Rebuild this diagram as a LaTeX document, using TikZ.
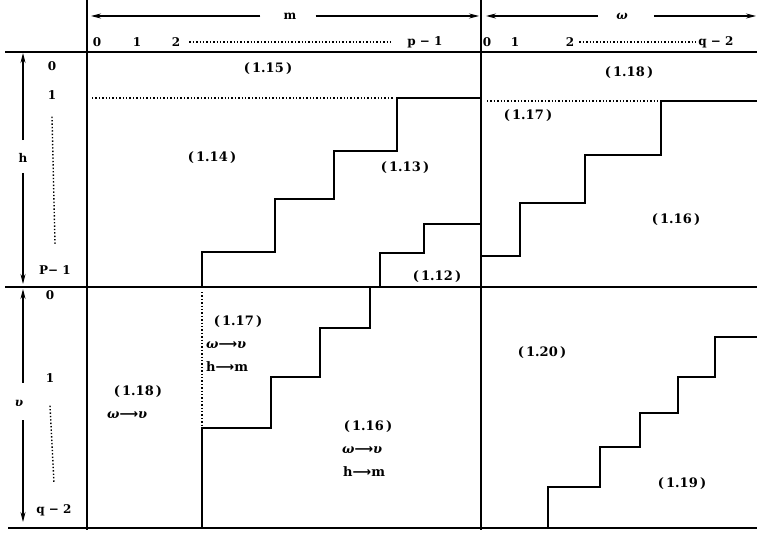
\documentclass[tikz,border=0pt]{standalone}
\usepackage{fontspec}
\setmainfont{DejaVu Serif}
\newfontfamily\arrowfont{DejaVu Sans}
\usetikzlibrary{arrows.meta}
\newcommand{\lra}{{\arrowfont\bfseries ⟶}}
\begin{document}
\begin{tikzpicture}[x=1pt,y=-1pt,
  grid/.style={line width=1.3pt},
  stair/.style={line width=1.3pt, line join=miter},
  dots/.style={line width=1.4pt, dotted},
  lbl/.style={font=\bfseries\fontsize{13}{15}\selectfont, inner sep=1pt},
  ax/.style={font=\bfseries\fontsize{12}{14}\selectfont, inner sep=1pt},
  arr/.style={line width=1.1pt, -{Stealth[length=10pt,width=5pt]}}]
\useasboundingbox (0,0) rectangle (757,535);
% grid
\draw[grid] (5,52) -- (757,52);
\draw[grid] (5,287) -- (757,287);
\draw[grid] (8,528) -- (757,528);
\draw[grid] (87,0) -- (87,530);
\draw[grid] (481,0) -- (481,530);
% top header
\node[ax] (m) at (290,16) {m};
\coordinate (mL) at (91,16);
\coordinate (mR) at (479,16);
\draw[arr] ([xshift=-22pt]m.west) -- (mL);
\draw[arr] ([xshift=18pt]m.east) -- (mR);
\node[ax] (w) at (622,16) {\itshape ω};
\coordinate (wL) at (486,16);
\coordinate (wR) at (756,16);
\draw[arr] ([xshift=-17pt]w.west) -- (wL);
\draw[arr] ([xshift=25pt]w.east) -- (wR);
\node[ax] (c0) at (97,42) {0};
\node[ax] (c1) at (137,42) {1};
\node[ax] (c2) at (176,42) {2};
\node[ax] (cp) at (425,42) {p − 1};
\draw[dots] ([xshift=8pt]c2.east) -- ([xshift=-14pt]cp.west);
\node[ax] (d0) at (487,42) {0};
\node[ax] (d1) at (515,42) {1};
\node[ax] (d2) at (570,42) {2};
\node[ax] (dq) at (716,42) {q − 2};
\draw[dots] ([xshift=4pt]d2.east) -- ([xshift=-2pt]dq.west);
% left axis, upper
\node[ax] (h) at (23,158) {h};
\coordinate (hT) at (23,53);
\coordinate (hB) at (23,284);
\draw[arr] ([yshift=12pt]h.north) -- (hT);
\draw[arr] ([yshift=-9pt]h.south) -- (hB);
\node[ax] (r0) at (52,66) {0};
\node[ax] (r1) at (52,95) {1};
\node[ax] (rp) at (55,270) {P− 1};
\draw[dots] ([yshift=-16pt]r1.south) -- ([yshift=20pt]rp.north);
% left axis, lower
\node[ax] (u) at (19,403) {\itshape υ};
\coordinate (uT) at (23,289);
\coordinate (uB) at (23,522);
\draw[arr] ([yshift=16pt]u.north -| uT) -- (uT);
\draw[arr] ([yshift=-13pt]u.south -| uB) -- (uB);
\node[ax] (s0) at (50,295) {0};
\node[ax] (s1) at (50,378) {1};
\node[ax] (sq) at (54,510) {q − 2};
\draw[dots] ([yshift=-22pt]s1.south) -- ([yshift=20pt]sq.north);
% upper-left block
\draw[dots] (92,98) -- (394,98);
\draw[stair] (202,287) -- (202,252) -- (275,252) -- (275,199) -- (334,199)
  -- (334,151) -- (397,151) -- (397,98) -- (481,98);
\draw[stair] (380,287) -- (380,253) -- (424,253) -- (424,224) -- (481,224);
\node[lbl] (a15) at (268,69) {(\,1.15\,)};
\node[lbl] (a14) at (212,158) {(\,1.14\,)};
\node[lbl] (a13) at (405,168) {(\,1.13\,)};
\node[lbl] (a12) at (437,277) {(\,1.12\,)};
% upper-right block
\draw[dots] (487,101) -- (659,101);
\draw[stair] (481,256) -- (520,256) -- (520,203) -- (585,203) -- (585,155)
  -- (661,155) -- (661,101) -- (757,101);
\node[lbl] (b18) at (629,73) {(\,1.18\,)};
\node[lbl] (b17) at (528,116) {(\,1.17\,)};
\node[lbl] (b16) at (676,220) {(\,1.16\,)};
% lower-left block
\draw[dots] (202,292) -- (202,426);
\draw[stair] (202,528) -- (202,428) -- (271,428) -- (271,377) -- (320,377)
  -- (320,328) -- (370,328) -- (370,287);
\node[lbl] (e17) at (238,322) {(\,1.17\,)};
\node[lbl, anchor=west] (e17a) at (205,345) {\itshape ω\lra υ};
\node[lbl, anchor=west] (e17b) at (205,367) {h\lra m};
\node[lbl] (e18) at (138,392) {(\,1.18\,)};
\node[lbl, anchor=west] (e18a) at (106,415) {\itshape ω\lra υ};
\node[lbl] (e16) at (368,427) {(\,1.16\,)};
\node[lbl, anchor=west] (e16a) at (341,450) {\itshape ω\lra υ};
\node[lbl, anchor=west] (e16b) at (342,472) {h\lra m};
% lower-right block
\draw[stair] (548,528) -- (548,487) -- (600,487) -- (600,447) -- (640,447)
  -- (640,413) -- (678,413) -- (678,377) -- (715,377) -- (715,337) -- (757,337);
\node[lbl] (f20) at (542,353) {(\,1.20\,)};
\node[lbl] (f19) at (682,484) {(\,1.19\,)};
\end{tikzpicture}
\end{document}
